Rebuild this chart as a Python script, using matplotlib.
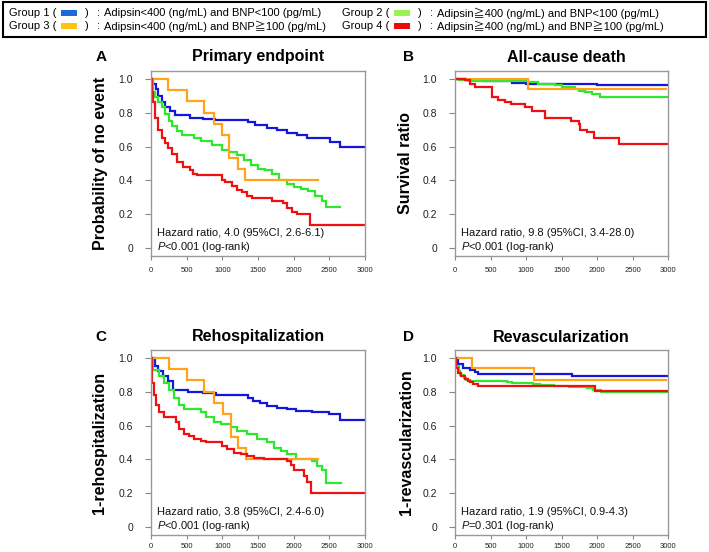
import matplotlib
matplotlib.use("Agg")
import matplotlib.pyplot as plt
from matplotlib.patches import Rectangle

plt.rcParams['font.family'] = ['Liberation Sans', 'Noto Sans CJK JP', 'DejaVu Sans']
plt.rcParams['mathtext.fontset'] = 'custom'
plt.rcParams['mathtext.it'] = 'Liberation Sans:italic'
plt.rcParams['mathtext.rm'] = 'Liberation Sans'

W, H = 709, 552

# colours
c_blue = '#1616d8'
c_green = '#2ee82e'
c_orange = '#ffa31a'
c_red = '#ee1111'
leg_colors = ['#1b6ad6', '#9ef05a', '#ffc20e', '#ee0a0a']

groups = ['Group 1 (', 'Group 2 (', 'Group 3 (', 'Group 4 (']
group_desc = ['Adipsin<400 (ng/mL) and BNP<100 (pg/mL)',
              'Adipsin\u2267400 (ng/mL) and BNP<100 (pg/mL)',
              'Adipsin<400 (ng/mL) and BNP\u2267100 (pg/mL)',
              'Adipsin\u2267400 (ng/mL) and BNP\u2267100 (pg/mL)']

titles = ['Primary endpoint', 'All-cause death', 'Rehospitalization', 'Revascularization']
letters = ['A', 'B', 'C', 'D']
ylabels = ['Probability of no event', 'Survival ratio', '1-rehospitalization', '1-revascularization']
hr_text = ['Hazard ratio, 4.0 (95%CI, 2.6-6.1)', 'Hazard ratio, 9.8 (95%CI, 3.4-28.0)',
           'Hazard ratio, 3.8 (95%CI, 2.4-6.0)', 'Hazard ratio, 1.9 (95%CI, 0.9-4.3)']
p_text = ['$P$<0.001 (log-rank)', '$P$<0.001 (log-rank)',
          '$P$<0.001 (log-rank)', '$P$=0.301 (log-rank)']

xticks = [0, 500, 1000, 1500, 2000, 2500, 3000]
yticks = [0, 0.2, 0.4, 0.6, 0.8, 1.0]
yticklabels = ['0', '0.2', '0.4', '0.6', '0.8', '1.0']

# --- A: primary endpoint
a_blue_t = [0, 33, 70, 103, 150, 196, 266, 336, 547, 734, 897, 1364, 1458, 1621, 1762, 1902, 2042, 2182, 2509, 2650]
a_blue_s = [1.0, 0.97, 0.94, 0.90, 0.863, 0.834, 0.808, 0.785, 0.769, 0.765, 0.755, 0.746, 0.726, 0.71, 0.697, 0.681, 0.667, 0.648, 0.624, 0.597]
a_blue_end = 3000
a_green_t = [0, 30, 60, 100, 150, 200, 250, 300, 360, 430, 600, 700, 850, 1000, 1100, 1200, 1300, 1400, 1500, 1600,
             1700, 1800, 1900, 2000, 2100, 2200, 2300, 2400, 2450]
a_green_s = [1.0, 0.92, 0.89, 0.86, 0.83, 0.79, 0.75, 0.72, 0.69, 0.67, 0.65, 0.63, 0.61, 0.58, 0.57, 0.55, 0.52, 0.49,
             0.47, 0.46, 0.44, 0.40, 0.38, 0.36, 0.35, 0.34, 0.31, 0.28, 0.245]
a_green_end = 2650
a_orange_t = [0, 240, 510, 740, 890, 1000, 1100, 1220, 1315]
a_orange_s = [1.0, 0.933, 0.867, 0.80, 0.733, 0.667, 0.533, 0.467, 0.40]
a_orange_end = 2340
a_red_t = [0, 10, 23, 56, 103, 150, 196, 243, 290, 360, 453, 547, 593, 640, 991, 1037, 1131, 1201, 1271, 1341, 1411,
           1692, 1855, 1902, 1972, 2042, 2229]
a_red_s = [1.0, 0.92, 0.86, 0.77, 0.70, 0.65, 0.62, 0.59, 0.555, 0.51, 0.48, 0.46, 0.44, 0.43, 0.40, 0.39, 0.37, 0.345,
           0.33, 0.31, 0.295, 0.28, 0.265, 0.24, 0.215, 0.205, 0.14]
a_red_end = 3000

# --- B: all-cause death
b_blue_t = [0, 150, 400, 800, 1000, 2000]
b_blue_s = [1.0, 0.99, 0.985, 0.975, 0.97, 0.96]
b_blue_end = 3000
b_green_t = [0, 50, 200, 1035, 1176, 1411, 1500, 1693, 1750, 1834, 1930, 2046]
b_green_s = [1.0, 0.99, 0.985, 0.98, 0.97, 0.96, 0.95, 0.94, 0.93, 0.92, 0.91, 0.89]
b_green_end = 3000
b_orange_t = [0, 1035]
b_orange_s = [1.0, 0.9375]
b_orange_end = 2970
b_red_t = [0, 141, 212, 282, 517, 600, 705, 790, 988, 1082, 1270, 1640, 1740, 1764, 1858, 1952, 2304]
b_red_s = [1.0, 0.99, 0.97, 0.95, 0.89, 0.875, 0.86, 0.85, 0.83, 0.81, 0.77, 0.75, 0.73, 0.70, 0.685, 0.648, 0.613]
b_red_end = 3000

# --- C: rehospitalization
c_blue_t = [0, 56, 103, 173, 243, 313, 525, 735, 910, 1360, 1430, 1530, 1620, 1760, 1900, 2030, 2250, 2500, 2650]
c_blue_s = [1.0, 0.95, 0.92, 0.89, 0.86, 0.81, 0.80, 0.79, 0.78, 0.76, 0.745, 0.73, 0.715, 0.705, 0.695, 0.685, 0.68,
            0.665, 0.635]
c_blue_end = 3000
c_green_t = [0, 33, 112, 182, 252, 322, 392, 462, 696, 766, 883, 976, 1116, 1210, 1350, 1490, 1630, 1723, 1817, 1910,
             2027, 2260, 2330, 2400, 2447]
c_green_s = [1.0, 0.93, 0.89, 0.85, 0.81, 0.76, 0.72, 0.70, 0.68, 0.65, 0.62, 0.61, 0.59, 0.57, 0.55, 0.52, 0.50, 0.47,
             0.45, 0.43, 0.40, 0.39, 0.36, 0.34, 0.26]
c_green_end = 2657
c_orange_t = [0, 252, 509, 743, 883, 1013, 1116, 1219, 1326]
c_orange_s = [1.0, 0.933, 0.867, 0.80, 0.733, 0.667, 0.533, 0.467, 0.40]
c_orange_end = 2340
c_red_t = [0, 19, 42, 65, 112, 182, 346, 392, 462, 532, 602, 696, 766, 999, 1069, 1163, 1256, 1350, 1443, 1583, 1910,
           1957, 2003, 2144, 2190, 2237]
c_red_s = [1.0, 0.85, 0.78, 0.72, 0.68, 0.65, 0.62, 0.58, 0.55, 0.54, 0.52, 0.51, 0.50, 0.48, 0.46, 0.44, 0.43, 0.42,
           0.41, 0.40, 0.39, 0.37, 0.34, 0.30, 0.27, 0.20]
c_red_end = 3000

# --- D: revascularization
d_blue_t = [0, 47, 118, 212, 282, 329, 1646]
d_blue_s = [1.0, 0.96, 0.94, 0.925, 0.915, 0.906, 0.893]
d_blue_end = 3000
d_green_t = [0, 20, 50, 70, 120, 160, 210, 300, 730, 800, 1100, 1200, 1390, 1600, 1860, 1950, 2050]
d_green_s = [1.0, 0.95, 0.92, 0.90, 0.88, 0.87, 0.865, 0.86, 0.855, 0.85, 0.845, 0.84, 0.83, 0.825, 0.82, 0.81, 0.795]
d_green_end = 3000
d_orange_t = [0, 235, 1119]
d_orange_s = [1.0, 0.936, 0.868]
d_orange_end = 2970
d_red_t = [0, 20, 45, 90, 140, 190, 210, 260, 330, 1966]
d_red_s = [1.0, 0.94, 0.91, 0.89, 0.875, 0.865, 0.855, 0.845, 0.833, 0.805]
d_red_end = 3000

panels = [
    [(a_blue_t, a_blue_s, a_blue_end, c_blue), (a_green_t, a_green_s, a_green_end, c_green),
     (a_orange_t, a_orange_s, a_orange_end, c_orange), (a_red_t, a_red_s, a_red_end, c_red)],
    [(b_blue_t, b_blue_s, b_blue_end, c_blue), (b_green_t, b_green_s, b_green_end, c_green),
     (b_orange_t, b_orange_s, b_orange_end, c_orange), (b_red_t, b_red_s, b_red_end, c_red)],
    [(c_blue_t, c_blue_s, c_blue_end, c_blue), (c_green_t, c_green_s, c_green_end, c_green),
     (c_orange_t, c_orange_s, c_orange_end, c_orange), (c_red_t, c_red_s, c_red_end, c_red)],
    [(d_blue_t, d_blue_s, d_blue_end, c_blue), (d_green_t, d_green_s, d_green_end, c_green),
     (d_orange_t, d_orange_s, d_orange_end, c_orange), (d_red_t, d_red_s, d_red_end, c_red)],
]

# axes boxes in pixels: left, top, right, bottom
boxes = [(151, 71, 365, 256), (455, 71, 668, 256), (151, 350, 365, 535), (455, 350, 668, 535)]
ylab_x = [100, 406, 99, 406]
letter_pos = [(101, 57), (409, 57), (101, 337), (409, 337)]
title_x = [258, 566, 258, 561]
xpad = [5, 5, 2.5, 2.5]


def fx(x):
    return x / W


def fy(y):
    return 1 - y / H


fig = plt.figure(figsize=(W / 100, H / 100), dpi=100)

for i in range(4):
    l, t, r, b = boxes[i]
    ax = fig.add_axes([fx(l), fy(b), (r - l) / W, (b - t) / H])
    for tt, ss, end, col in panels[i]:
        ax.step(list(tt) + [end], list(ss) + [ss[-1]], where='post', color=col, lw=1.6, solid_joinstyle='miter')
    ax.set_xlim(0, 3000)
    ax.set_ylim(-0.045, 1.045)
    ax.set_xticks(xticks)
    ax.set_xticklabels([str(v) for v in xticks], fontsize=5.5)
    ax.set_yticks(yticks)
    ax.set_yticklabels(yticklabels, fontsize=7.5)
    ax.tick_params(axis='y', length=4, width=0.8, color='#888888', pad=9, labelcolor='#222222')
    ax.tick_params(axis='x', length=3, width=0.8, color='#888888', pad=xpad[i], labelcolor='#222222')
    for sp in ax.spines.values():
        sp.set_color('#999999')
        sp.set_linewidth(1.0)
    ax.text(0.028, 0.124, hr_text[i], transform=ax.transAxes, fontsize=8, va='center', ha='left', color='#111111')
    ax.text(0.028, 0.05, p_text[i], transform=ax.transAxes, fontsize=8, va='center', ha='left', color='#111111')

    cy = (t + b) / 2
    fig.text(fx(ylab_x[i]), fy(cy), ylabels[i], rotation=90, fontsize=11.5, fontweight='bold',
             ha='center', va='center')
    fig.text(fx(title_x[i]), fy(letter_pos[i][1]), titles[i], fontsize=11.5, fontweight='bold',
             ha='center', va='center')
    fig.text(fx(letter_pos[i][0]), fy(letter_pos[i][1]), letters[i], fontsize=11, fontweight='bold',
             ha='center', va='center')

# legend box at the top
fig.patches.append(Rectangle((fx(3), fy(37)), (706 - 3) / W, 35 / H, transform=fig.transFigure,
                             fill=False, edgecolor='black', linewidth=1.5))
col_x = [9, 342]
row_y = [13, 26]
for k in range(4):
    x0 = col_x[k % 2]
    y0 = row_y[k // 2]
    fig.text(fx(x0), fy(y0), groups[k], fontsize=8, ha='left', va='center')
    fig.patches.append(Rectangle((fx(x0 + 52), fy(y0 + 2.5)), 16 / W, 5 / H, transform=fig.transFigure,
                                 facecolor=leg_colors[k], edgecolor='none'))
    fig.text(fx(x0 + 76), fy(y0), ')', fontsize=8, ha='left', va='center')
    fig.text(fx(x0 + 88), fy(y0), ':', fontsize=8, ha='left', va='center')
    fig.text(fx(x0 + 95), fy(y0), group_desc[k], fontsize=8, ha='left', va='center')

fig.savefig('out.png', dpi=100)
